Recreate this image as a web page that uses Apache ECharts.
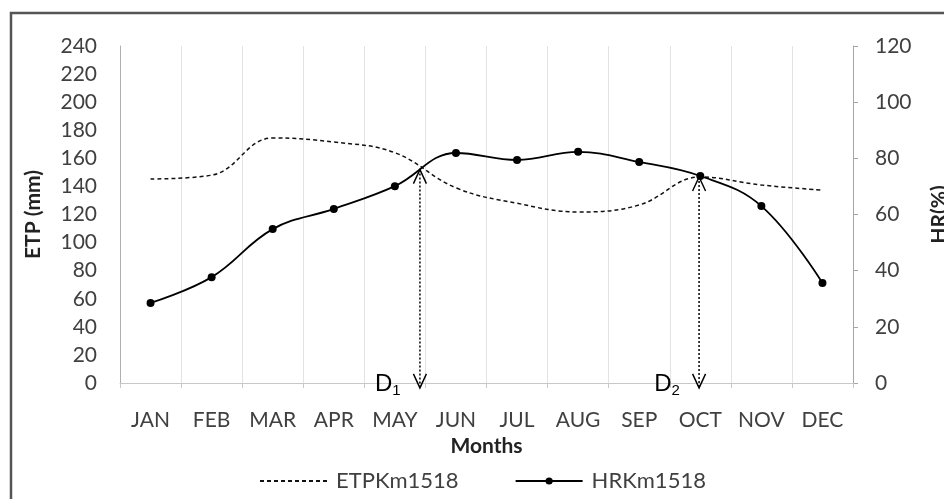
<!DOCTYPE html>
<html>
<head>
<meta charset="utf-8">
<script src="https://cdn.jsdelivr.net/npm/echarts@6/dist/echarts.min.js"></script>
<style>
html,body{margin:0;padding:0;background:#fff;}
#chart{width:944px;height:499px;}
</style>
</head>
<body>
<div id="chart"></div>
<script>
var months = ['JAN','FEB','MAR','APR','MAY','JUN','JUL','AUG','SEP','OCT','NOV','DEC'];
var etp = [145.3, 148, 174.5, 171.6, 164, 139, 128, 121.8, 126.8, 146.7, 141, 137.4];
var hr = [28.5, 37.7, 54.8, 62, 70.1, 81.9, 79.4, 82.3, 78.7, 73.7, 63, 35.6];
var etpTicks = [0, 20, 40, 60, 80, 100, 120, 140, 160, 180, 200, 220, 240];
var hrTicks = [0, 20, 40, 60, 80, 100, 120];
// annotation arrows: x position (in month index units), top value (ETP mm), bottom value, label subscript
var arrowX = [4.41, 8.98];
var arrowTop = [152, 146.7];
var arrowBottom = [-3.5, -3.5];
var arrowSub = ['1', '2'];

var FONT = 'Lato';
var TXT = '#404040';
var chart = echarts.init(document.getElementById('chart'));

var arrowSeries = arrowX.map(function (x, i) {
  return {
    type: 'line',
    name: 'D' + arrowSub[i],
    xAxisIndex: 1,
    yAxisIndex: 0,
    clip: false,
    silent: true,
    z: 5,
    lineStyle: { color: '#000', width: 1.5, type: [2, 2] },
    itemStyle: { color: 'rgba(0,0,0,0)', borderColor: '#000', borderWidth: 1.5 },
    data: [
      { value: [x, arrowTop[i]], symbol: 'path://M0,10 L5,0 L10,10', symbolSize: [13, 14], symbolOffset: [0, '50%'] },
      { value: [x, arrowBottom[i]], symbol: 'path://M0,0 L5,10 L10,0', symbolSize: [13, 14], symbolOffset: [0, '-50%'],
        label: {
          show: true, position: 'left', distance: 12, offset: [0, 3],
          formatter: '{d|D}{s|' + arrowSub[i] + '}',
          rich: {
            d: { fontFamily: 'Liberation Sans', fontSize: 24, color: '#000', lineHeight: 26 },
            s: { fontFamily: 'Liberation Sans', fontSize: 15, color: '#000', padding: [14, 0, 0, 0], lineHeight: 26 }
          }
        }
      }
    ]
  };
});

var option = {
  backgroundColor: '#fff',
  animation: false,
  textStyle: { fontFamily: FONT },
  graphic: [{
    type: 'rect', z: -10, silent: true,
    shape: { x: 11, y: 13, width: 1200, height: 800 },
    style: { fill: 'none', stroke: '#555', lineWidth: 2.5 }
  }],
  grid: { left: 120, right: 91, top: 46, bottom: 116, containLabel: false, outerBoundsMode: 'none' },
  legend: {
    data: [
      { name: 'ETPKm1518', itemStyle: { color: 'rgba(0,0,0,0)', borderWidth: 0, opacity: 0 } },
      { name: 'HRKm1518' }
    ],
    left: 254, top: 465,
    itemWidth: 67, itemHeight: 9, itemGap: 56,
    textStyle: { fontFamily: FONT, fontSize: 22, color: TXT, padding: [0, 0, 0, 4] }
  },
  xAxis: [{
    type: 'category',
    data: months,
    boundaryGap: true,
    name: 'Months',
    nameLocation: 'middle',
    nameGap: 52,
    nameTextStyle: { fontFamily: FONT, fontSize: 21, fontWeight: 'bold', color: '#222' },
    axisLine: { lineStyle: { color: '#c8c8c8', width: 1 } },
    axisTick: { show: true, interval: 0, length: 5, lineStyle: { color: '#c8c8c8' } },
    axisLabel: { interval: 0, fontFamily: FONT, fontSize: 21, color: TXT, margin: 27 },
    splitLine: { show: true, interval: 0, lineStyle: { color: '#e3e3e3', width: 1 } }
  }, {
    type: 'value', min: -0.5, max: 11.5, show: false
  }],
  yAxis: [{
    type: 'value', min: etpTicks[0], max: etpTicks[etpTicks.length - 1], interval: etpTicks[1] - etpTicks[0],
    name: 'ETP (mm)', nameLocation: 'middle', nameGap: 76, nameRotate: 90,
    nameTextStyle: { fontFamily: FONT, fontSize: 21, fontWeight: 'bold', color: '#222' },
    axisLine: { show: true, onZero: false, lineStyle: { color: '#b0b0b0' } },
    axisTick: { show: false },
    axisLabel: { fontFamily: FONT, fontSize: 21, color: TXT, margin: 23 },
    splitLine: { show: false }
  }, {
    type: 'value', position: 'right', min: hrTicks[0], max: hrTicks[hrTicks.length - 1], interval: hrTicks[1] - hrTicks[0],
    name: 'HR(%)', nameLocation: 'middle', nameGap: 76, nameRotate: 90,
    nameTextStyle: { fontFamily: FONT, fontSize: 21, fontWeight: 'bold', color: '#222' },
    axisLine: { show: true, onZero: false, lineStyle: { color: '#a6a6a6' } },
    axisTick: { show: true, length: 5, inside: false, lineStyle: { color: '#a6a6a6' } },
    axisLabel: { fontFamily: FONT, fontSize: 21, color: TXT, margin: 22 },
    splitLine: { show: false }
  }],
  series: [{
    name: 'ETPKm1518',
    type: 'line',
    xAxisIndex: 0, yAxisIndex: 0,
    data: etp,
    smooth: 0.4,
    symbol: 'none',
    lineStyle: { color: '#111', width: 1.5, type: [4, 3] },
    itemStyle: { color: '#111' },
    z: 3
  }, {
    name: 'HRKm1518',
    type: 'line',
    xAxisIndex: 0, yAxisIndex: 1,
    data: hr,
    smooth: 0.4,
    symbol: 'circle', symbolSize: 8,
    lineStyle: { color: '#000', width: 1.8 },
    itemStyle: { color: '#000' },
    z: 4
  }].concat(arrowSeries)
};
chart.setOption(option);
</script>
</body>
</html>
